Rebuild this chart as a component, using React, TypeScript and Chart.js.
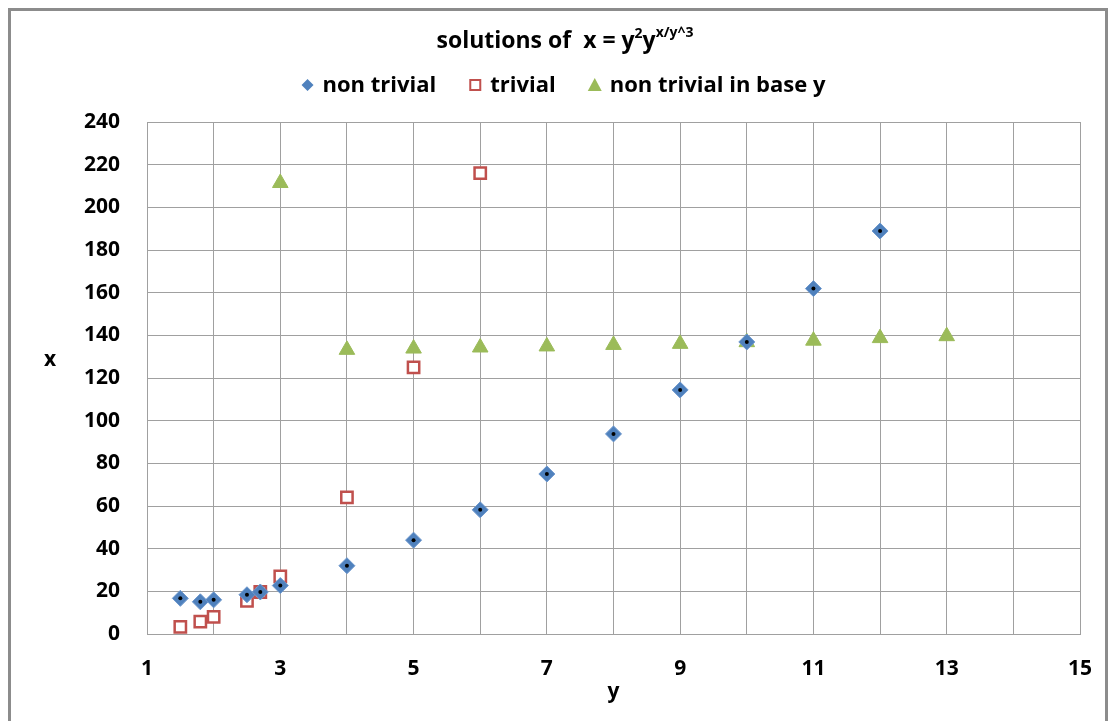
import React, { useEffect, useRef } from "react";
import { Chart, registerables } from "chart.js";

Chart.register(...registerables);

const nonTrivialY = [1.5, 1.8, 2, 2.5, 2.7, 3, 4, 5, 6, 7, 8, 9, 10, 11, 12];
const nonTrivialX = [16.7, 15.1, 16, 18.4, 19.7, 22.7, 32, 44, 58.2, 75, 93.8, 114.4, 136.9, 161.9, 188.9];
const trivialY = [1.5, 1.8, 2, 2.5, 2.7, 3, 4, 5, 6];
const trivialX = [3.375, 5.83, 8, 15.6, 19.7, 27, 64, 125, 216];
const baseY = [3, 4, 5, 6, 7, 8, 9, 10, 11, 12, 13];
const baseX = [211.4, 133.2, 133.8, 134.3, 134.8, 135.5, 136, 136.8, 137.5, 138.7, 139.6];
const seriesNames = ["non trivial", "trivial", "non trivial in base y"];

const BLUE = "#4F81BD";
const RED = "#C0504D";
const GREEN = "#9BBB59";
const FONT = "'Open Sans'";

const toPts = (xs: number[], ys: number[]) => xs.map((v, i) => ({ x: v, y: ys[i] }));

const decorPlugin = {
  id: "decor",
  afterDatasetsDraw(chart: any) {
    const ctx = chart.ctx;
    const meta = chart.getDatasetMeta(0);
    ctx.save();
    ctx.fillStyle = "#000";
    meta.data.forEach((el: any) => {
      ctx.beginPath();
      ctx.arc(el.x, el.y, 2, 0, Math.PI * 2);
      ctx.fill();
    });
    ctx.restore();
  },
  afterDraw(chart: any) {
    const ctx = chart.ctx;
    ctx.save();
    ctx.fillStyle = "#000";
    ctx.textBaseline = "middle";
    // Title
    const big = `bold 23px ${FONT}`;
    const small = `bold 14px ${FONT}`;
    const parts = [
      { t: "solutions of  x = y", f: big, dy: 0 },
      { t: "2", f: small, dy: -7 },
      { t: "y", f: big, dy: 0 },
      { t: "x/y^3", f: small, dy: -8 },
    ];
    let total = 0;
    parts.forEach((p) => {
      ctx.font = p.f;
      total += ctx.measureText(p.t).width;
    });
    let x = 554 - total / 2;
    const ty = 30;
    ctx.textAlign = "left";
    parts.forEach((p) => {
      ctx.font = p.f;
      ctx.fillText(p.t, x, ty + p.dy);
      x += ctx.measureText(p.t).width;
    });

    // Legend
    const lf = `bold 22px ${FONT}`;
    ctx.font = lf;
    const ly = 74;
    const markerW = 14;
    const gapText = 8;
    const gapItem = 32;
    const widths = seriesNames.map((n) => ctx.measureText(n).width);
    const lt = widths.reduce((a, w) => a + markerW + gapText + w, 0) + gapItem * (seriesNames.length - 1);
    let lx = 552 - lt / 2;
    seriesNames.forEach((n, i) => {
      const cx = lx + markerW / 2;
      ctx.beginPath();
      if (i === 0) {
        ctx.fillStyle = BLUE;
        ctx.moveTo(cx, ly - 6);
        ctx.lineTo(cx + 6, ly);
        ctx.lineTo(cx, ly + 6);
        ctx.lineTo(cx - 6, ly);
        ctx.closePath();
        ctx.fill();
      } else if (i === 1) {
        ctx.fillStyle = "#fff";
        ctx.strokeStyle = RED;
        ctx.lineWidth = 2;
        ctx.rect(cx - 5, ly - 5, 10, 10);
        ctx.fill();
        ctx.stroke();
      } else {
        ctx.fillStyle = GREEN;
        ctx.moveTo(cx, ly - 7);
        ctx.lineTo(cx + 7, ly + 6);
        ctx.lineTo(cx - 7, ly + 6);
        ctx.closePath();
        ctx.fill();
      }
      ctx.fillStyle = "#000";
      ctx.fillText(n, lx + markerW + gapText, ly + 1);
      lx += markerW + gapText + widths[i] + gapItem;
    });

    // Y axis title
    ctx.font = `bold 21px ${FONT}`;
    ctx.textAlign = "center";
    ctx.fillText("x", 39, 349);
    ctx.restore();
  },
};

export default function App() {
  const ref = useRef<HTMLCanvasElement>(null);
  useEffect(() => {
    if (!ref.current) return;
    const chart = new Chart(ref.current, {
      type: "scatter",
      data: {
        datasets: [
          {
            label: seriesNames[0],
            data: toPts(nonTrivialY, nonTrivialX),
            pointStyle: "rectRot",
            pointRadius: 8,
            backgroundColor: BLUE,
            borderColor: "#6b96cc",
            borderWidth: 1,
          },
          {
            label: seriesNames[1],
            data: toPts(trivialY, trivialX),
            pointStyle: "rect",
            pointRadius: 8,
            backgroundColor: "#ffffff",
            borderColor: RED,
            borderWidth: 2.5,
          },
          {
            label: seriesNames[2],
            data: toPts(baseY, baseX),
            pointStyle: "triangle",
            pointRadius: 9,
            backgroundColor: GREEN,
            borderColor: GREEN,
            borderWidth: 1,
          },
        ],
      },
      options: {
        responsive: false,
        animation: false,
        layout: { padding: { top: 111, left: 0, right: 25, bottom: 0 } },
        plugins: {
          legend: { display: false },
          title: { display: false },
          tooltip: { enabled: false },
        },
        scales: {
          x: {
            type: "linear",
            min: 1,
            max: 15,
            afterFit: (s: any) => {
              s.height = 86;
              s.paddingLeft = 0;
              s.paddingRight = 0;
            },
            ticks: {
              stepSize: 1,
              padding: 22,
              color: "#000",
              font: { family: FONT, size: 21, weight: "bold" },
              callback: (v: any) => (Number(v) % 2 === 1 ? String(v) : ""),
              maxRotation: 0,
              autoSkip: false,
            },
            grid: { color: "#a0a0a0", drawTicks: false, lineWidth: 1 },
            border: { color: "#a0a0a0" },
            title: {
              display: true,
              text: "y",
              color: "#000",
              font: { family: FONT, size: 21, weight: "bold" },
              padding: { top: 0, bottom: 15 },
            },
          },
          y: {
            type: "linear",
            min: 0,
            max: 240,
            afterFit: (s: any) => {
              s.width = 136;
              s.paddingTop = 0;
              s.paddingBottom = 0;
            },
            ticks: {
              stepSize: 20,
              padding: 27,
              color: "#000",
              font: { family: FONT, size: 21, weight: "bold" },
            },
            grid: { color: "#a0a0a0", drawTicks: false, lineWidth: 1 },
            border: { color: "#a0a0a0" },
          },
        },
      },
      plugins: [decorPlugin],
    });
    return () => chart.destroy();
  }, []);
  return (
    <div
      style={{
        position: "fixed",
        left: 8,
        top: 8,
        width: 1094,
        height: 720,
        border: "3px solid #8c8c8c",
        background: "#fff",
      }}
    >
      <canvas ref={ref} width={1094} height={709} style={{ display: "block" }} />
    </div>
  );
}
